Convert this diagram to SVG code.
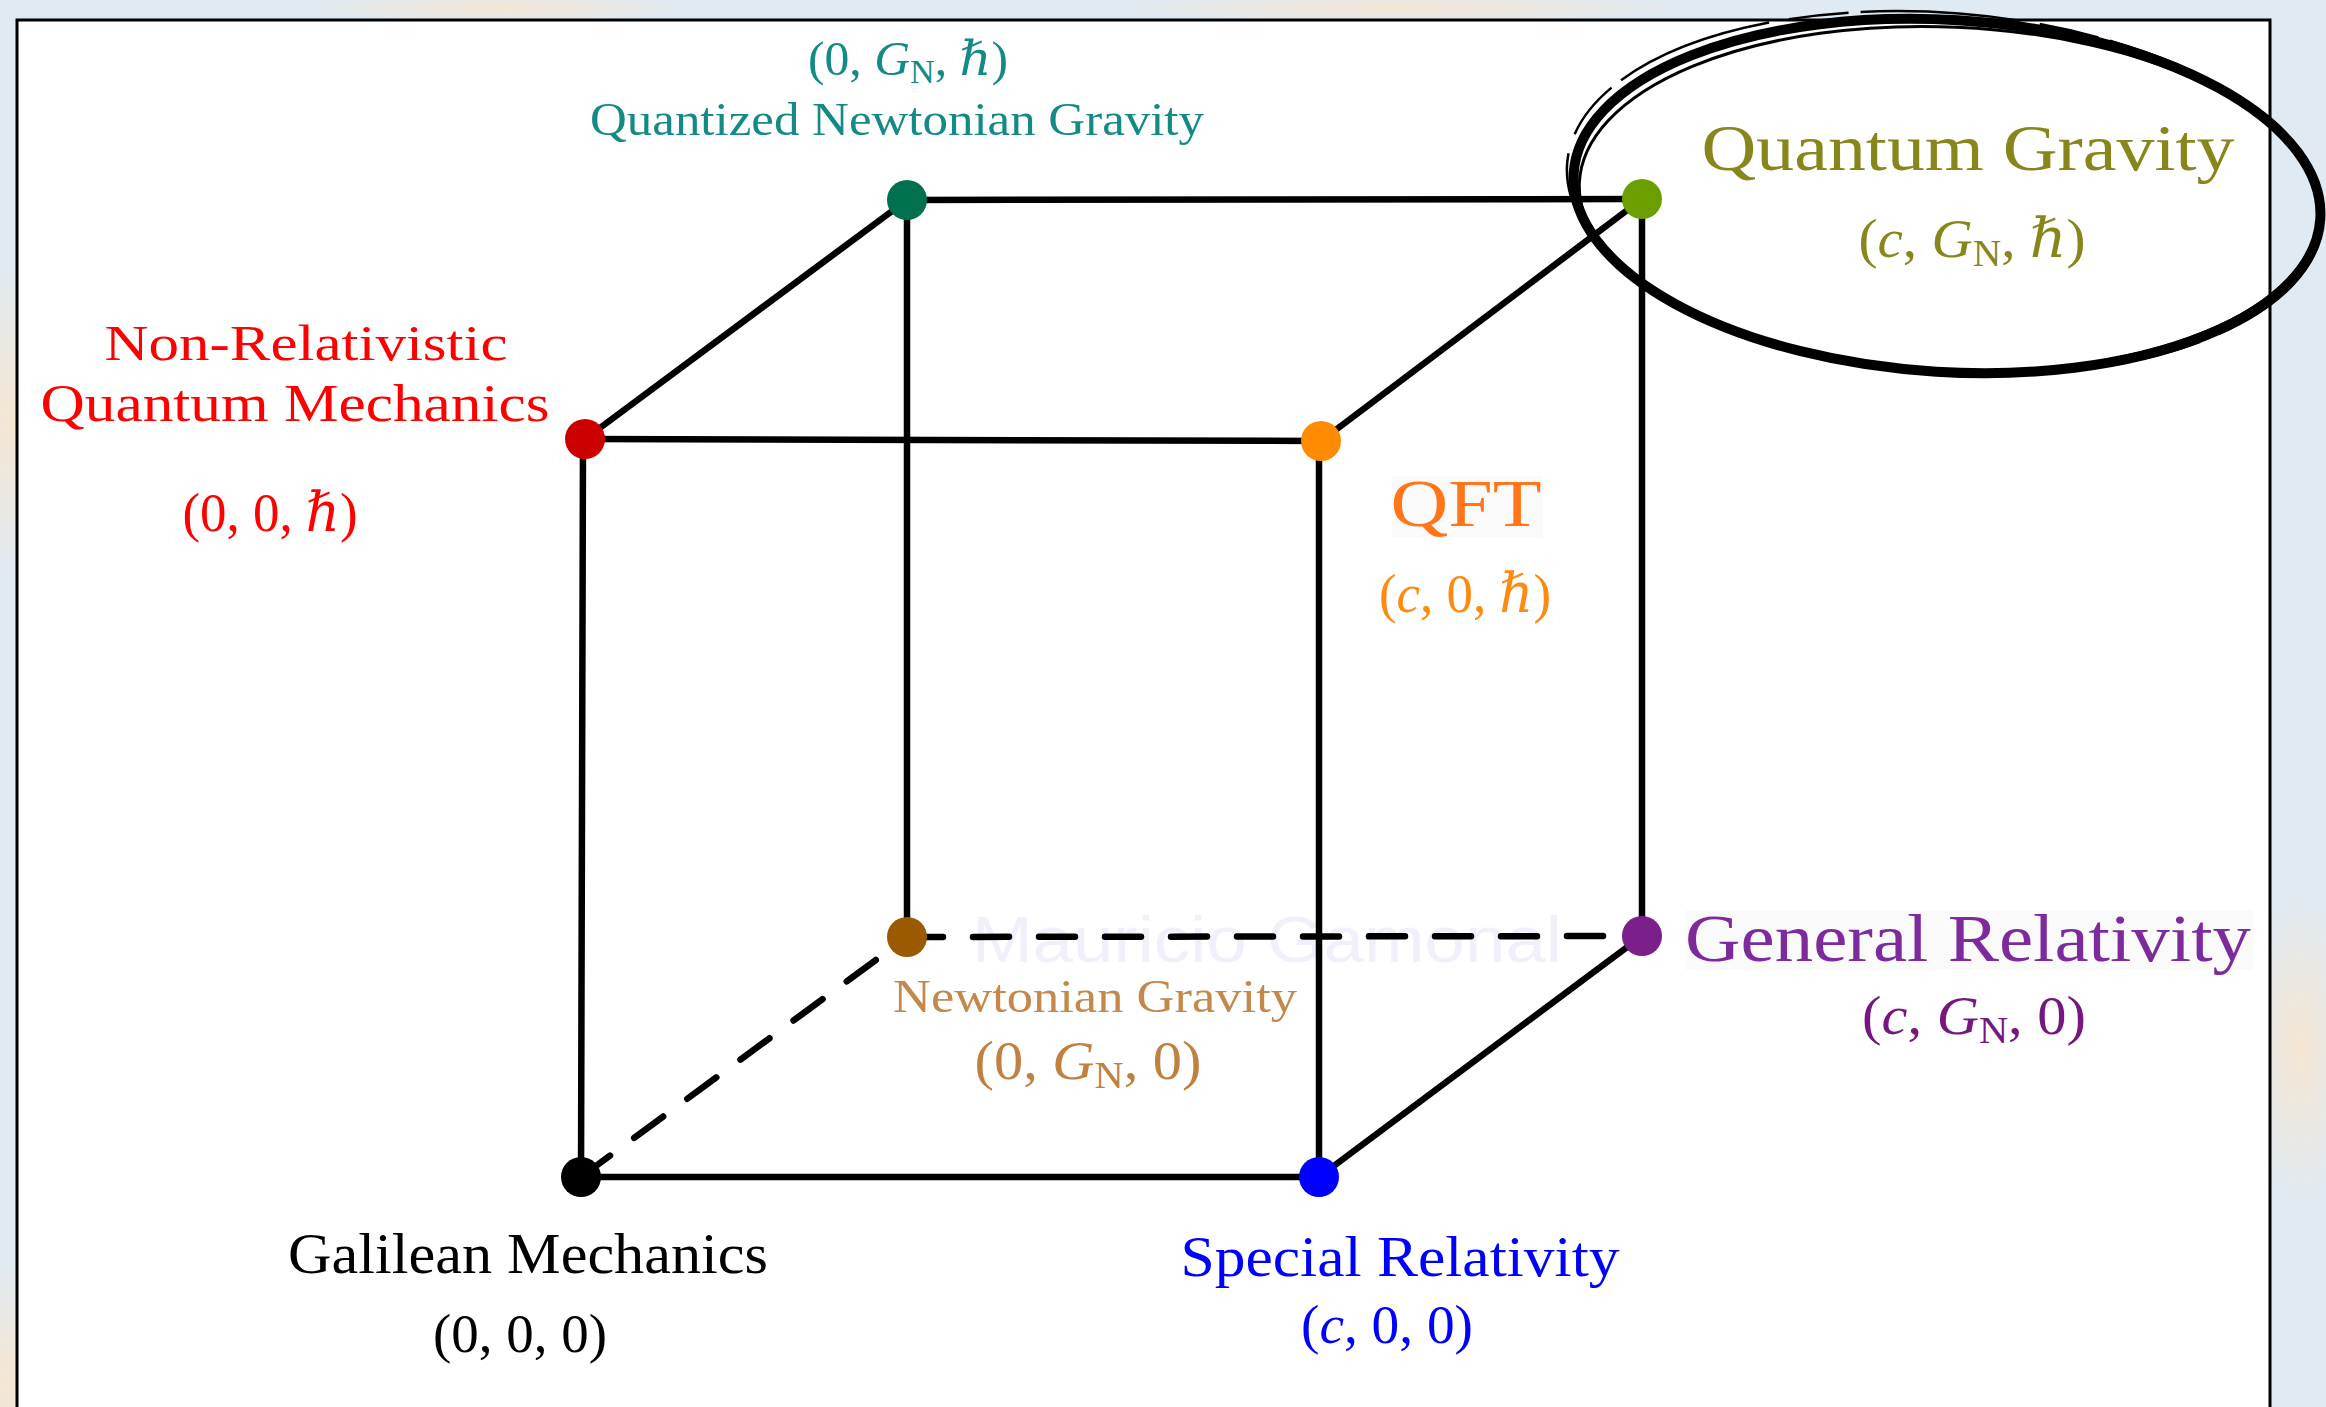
<svg xmlns="http://www.w3.org/2000/svg" width="2326" height="1407" viewBox="0 0 2326 1407">
  <defs>
    <style>
      .lbl { font-family: "Liberation Serif", "DejaVu Serif", serif; text-anchor: middle; }
      .it { font-style: italic; }
      .edge { stroke: #000; stroke-width: 6.5; fill: none; stroke-linecap: round; }
      .dash { stroke-dasharray: 36 30; }
      .wm { font-family: "Liberation Sans", Arial, sans-serif; fill: #f0f0fb; }
    </style>
    <radialGradient id="peach" cx="0.5" cy="0.5" r="0.5">
      <stop offset="0" stop-color="#f5e6d2"/>
      <stop offset="1" stop-color="#f5e6d2" stop-opacity="0"/>
    </radialGradient>
  </defs>

  <!-- background outside the frame -->
  <rect x="0" y="0" width="2326" height="1407" fill="#e0eaf3"/>
  <ellipse cx="10" cy="420" rx="60" ry="160" fill="url(#peach)"/>
  <ellipse cx="10" cy="1380" rx="60" ry="120" fill="url(#peach)"/>
  <ellipse cx="2300" cy="1050" rx="60" ry="160" fill="url(#peach)"/>
  <ellipse cx="1400" cy="8" rx="300" ry="14" fill="url(#peach)"/>
  <ellipse cx="500" cy="8" rx="200" ry="14" fill="url(#peach)"/>

  <!-- frame -->
  <rect x="17" y="20" width="2253" height="1400" fill="#ffffff" stroke="#000" stroke-width="3"/>

  <!-- faint patches and watermark -->
  <rect x="1392" y="476" width="151" height="62" fill="#fafafa"/>
  <rect x="1686" y="910" width="567" height="60" fill="#fafafa"/>
  <text class="wm" x="972" y="962" font-size="65" textLength="590" lengthAdjust="spacingAndGlyphs">Mauricio Gamonal</text>

  <!-- connectors -->
  <g id="connectors">
    <line class="edge" x1="581" y1="1177" x2="1319" y2="1177"/>
    <line class="edge" x1="581" y1="1177" x2="583" y2="439"/>
    <line class="edge dash" x1="581" y1="1177" x2="907" y2="937"/>
    <line class="edge dash" x1="907" y1="937" x2="1642" y2="936"/>
    <line class="edge" x1="907" y1="937" x2="907" y2="200"/>
    <line class="edge" x1="1319" y1="1177" x2="1319" y2="441"/>
    <line class="edge" x1="1319" y1="1177" x2="1642" y2="936"/>
    <line class="edge" x1="1642" y1="936" x2="1642" y2="199"/>
    <line class="edge" x1="585" y1="439" x2="1321" y2="441"/>
    <line class="edge" x1="585" y1="439" x2="907" y2="200"/>
    <line class="edge" x1="1321" y1="441" x2="1642" y2="199"/>
    <line class="edge" x1="907" y1="200" x2="1642" y2="199"/>
  </g>

  <!-- nodes -->
  <g id="galilean">
    <circle cx="581" cy="1177" r="20" fill="#000000"/>
    <text class="lbl" x="528" y="1273" font-size="56" fill="#000" textLength="480" lengthAdjust="spacingAndGlyphs">Galilean Mechanics</text>
    <text class="lbl" x="520" y="1352" font-size="55" fill="#000" textLength="174" lengthAdjust="spacingAndGlyphs">(0, 0, 0)</text>
  </g>

  <g id="special-relativity">
    <circle cx="1319" cy="1177" r="20" fill="#0000ff"/>
    <text class="lbl" x="1400" y="1276" font-size="56" fill="#0000ff" textLength="439" lengthAdjust="spacingAndGlyphs">Special Relativity</text>
    <text class="lbl" x="1387" y="1343" font-size="55" fill="#0000ff" textLength="172" lengthAdjust="spacingAndGlyphs">(<tspan class="it">c</tspan>, 0, 0)</text>
  </g>

  <g id="newtonian-gravity">
    <circle cx="907" cy="937" r="20" fill="#9b5a00"/>
    <text class="lbl" x="1095" y="1012" font-size="47" fill="#c4884a" textLength="404" lengthAdjust="spacingAndGlyphs">Newtonian Gravity</text>
    <text class="lbl" x="1088" y="1079" font-size="55" fill="#c08040" textLength="227" lengthAdjust="spacingAndGlyphs">(0, <tspan class="it">G</tspan><tspan font-size="38" dy="9">N</tspan><tspan dy="-9">, 0)</tspan></text>
  </g>

  <g id="general-relativity">
    <circle cx="1642" cy="936" r="20" fill="#7b1f8b"/>
    <text class="lbl" x="1968" y="961" font-size="68" fill="#7d2a9d" textLength="566" lengthAdjust="spacingAndGlyphs">General Relativity</text>
    <text class="lbl" x="1974" y="1034" font-size="55" fill="#761680" textLength="224" lengthAdjust="spacingAndGlyphs">(<tspan class="it">c</tspan>, <tspan class="it">G</tspan><tspan font-size="38" dy="9">N</tspan><tspan dy="-9">, 0)</tspan></text>
  </g>

  <g id="nonrel-qm">
    <circle cx="585" cy="439" r="20" fill="#cc0000"/>
    <text class="lbl" x="306" y="360" font-size="51" fill="#ff0000" textLength="403" lengthAdjust="spacingAndGlyphs">Non-Relativistic</text>
    <text class="lbl" x="295" y="421" font-size="52" fill="#ff0000" textLength="509" lengthAdjust="spacingAndGlyphs">Quantum Mechanics</text>
    <text class="lbl" x="270" y="531" font-size="55" fill="#ff0000" textLength="175" lengthAdjust="spacingAndGlyphs">(0, 0, <tspan class="it">ℏ</tspan>)</text>
  </g>

  <g id="qft">
    <circle cx="1321" cy="441" r="20" fill="#ff8c00"/>
    <text class="lbl" x="1466" y="526" font-size="68" fill="#ff7518" textLength="151" lengthAdjust="spacingAndGlyphs">QFT</text>
    <text class="lbl" x="1465" y="612" font-size="55" fill="#ff8a10" textLength="172" lengthAdjust="spacingAndGlyphs">(<tspan class="it">c</tspan>, 0, <tspan class="it">ℏ</tspan>)</text>
  </g>

  <g id="quantized-newtonian-gravity">
    <circle cx="907" cy="200" r="20" fill="#00704f"/>
    <text class="lbl" x="908" y="75" font-size="48" fill="#148a86" textLength="200" lengthAdjust="spacingAndGlyphs">(0, <tspan class="it">G</tspan><tspan font-size="33" dy="8">N</tspan><tspan dy="-8">, </tspan><tspan class="it">ℏ</tspan>)</text>
    <text class="lbl" x="897" y="135" font-size="47" fill="#148a86" textLength="614" lengthAdjust="spacingAndGlyphs">Quantized Newtonian Gravity</text>
  </g>

  <g id="quantum-gravity">
    <circle cx="1642" cy="199" r="20" fill="#6b9f00"/>
    <text class="lbl" x="1968" y="170" font-size="66" fill="#86861a" textLength="533" lengthAdjust="spacingAndGlyphs">Quantum Gravity</text>
    <text class="lbl" x="1972" y="257" font-size="55" fill="#86861a" textLength="227" lengthAdjust="spacingAndGlyphs">(<tspan class="it">c</tspan>, <tspan class="it">G</tspan><tspan font-size="38" dy="9">N</tspan><tspan dy="-9">, </tspan><tspan class="it">ℏ</tspan>)</text>
  </g>

  <!-- hand-drawn ellipse around Quantum Gravity -->
  <g id="highlight" fill="none" stroke="#000">
    <ellipse cx="1947" cy="196" rx="374" ry="176" stroke-width="10" transform="rotate(3.5 1947 196)"/>
    <ellipse cx="1949" cy="199" rx="370" ry="172" stroke-width="3" transform="rotate(2.5 1949 199)"/>
    <ellipse cx="1945" cy="193" rx="379" ry="180" stroke-width="2.5" stroke-dasharray="160 20 60 12" transform="rotate(4.5 1945 193)"/>
  </g>
</svg>
